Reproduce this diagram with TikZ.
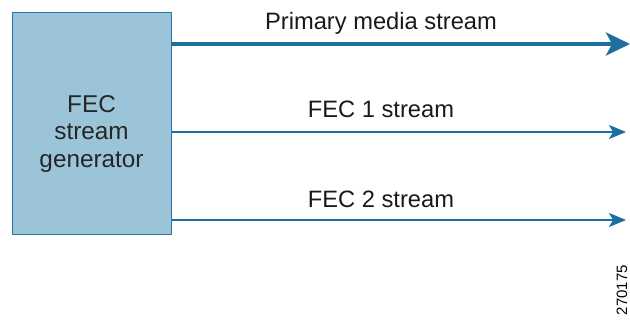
\documentclass[tikz,border=0pt]{standalone}
\usepackage{fontspec}
\setmainfont{Liberation Sans}
\usetikzlibrary{arrows.meta}
\definecolor{boxfill}{HTML}{9CC4D9}
\definecolor{boxline}{HTML}{2A79AA}
\definecolor{flow}{HTML}{1D6FA0}
\tikzset{
  genbox/.style={draw=boxline, line width=1pt, fill=boxfill, inner sep=0pt},
  mainflow/.style={draw=flow, line width=3.6pt, -{Stealth[length=24pt, width=23pt, inset=6pt]}},
  sideflow/.style={draw=flow, line width=1.5pt, -{Stealth[length=17pt, width=14pt, inset=4pt]}},
  flowlabel/.style={font=\fontsize{23.7pt}{27pt}\selectfont, text=black!90, inner sep=0pt, anchor=base}
}
\begin{document}
\begin{tikzpicture}[x=1pt, y=-1pt]
  \useasboundingbox (0,0) rectangle (630,320);
  % generator block
  \draw[genbox] (12,13) rectangle (171,235);
  \node[align=center, font=\fontsize{24.3pt}{27.5pt}\selectfont, text=black!85] (gen) at (91.5,134) {FEC\\stream\\generator};
  \coordinate (gA) at (171,44);
  \coordinate (gB) at (171,132);
  \coordinate (gC) at (171,220);
  \coordinate (eA) at (630,44);
  \coordinate (eB) at (626,132);
  \coordinate (eC) at (626,220);
  % outgoing streams
  \draw[mainflow] (gA) -- (eA);
  \draw[sideflow] (gB) -- (eB);
  \draw[sideflow] (gC) -- (eC);
  \node[flowlabel] (lA) at (381,30) {Primary media stream};
  \node[flowlabel] (lB) at (381,118) {FEC 1 stream};
  \node[flowlabel] (lC) at (381,208) {FEC 2 stream};
  % figure number
  \node[rotate=90, font=\fontsize{15pt}{15pt}\selectfont, inner sep=0pt] (num) at (622,290) {270175};
\end{tikzpicture}
\end{document}
